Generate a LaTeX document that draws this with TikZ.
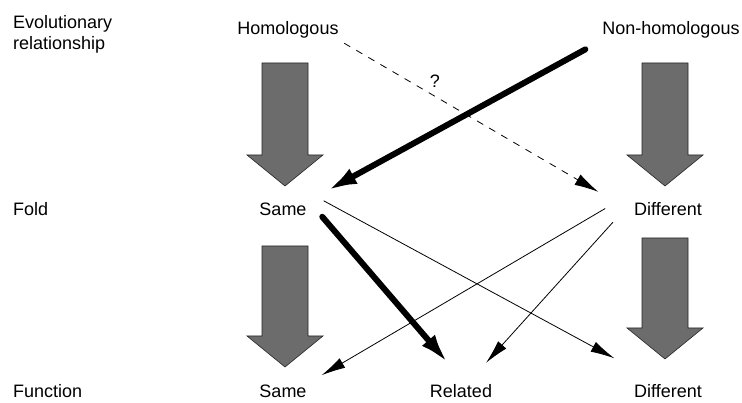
\documentclass[tikz,border=0pt]{standalone}
\usepackage{fontspec}
\setmainfont{Liberation Sans}
\usepackage{xcolor}
\usepackage{tikz}
\usetikzlibrary{arrows.meta}

\definecolor{bargray}{RGB}{108,108,108}

\begin{document}
\begin{tikzpicture}[
    x=1pt, y=-1pt,
    level/.style={font=\fontsize{18}{21}\selectfont, inner sep=2pt, text height=13pt, text depth=4pt, anchor=base},
    rowname/.style={font=\fontsize{18}{21}\selectfont, inner sep=0pt, align=left},
    bigarrow/.style={fill=bargray, draw=black!85, line width=0.6pt},
    strong/.style={line width=6pt, line cap=round, -{Latex[length=30pt,width=17pt]}},
    weak/.style={line width=0.8pt, -{Latex[length=24pt,width=11pt]}},
    maybe/.style={line width=0.8pt, dash pattern=on 7pt off 7pt, -{Latex[length=24pt,width=12pt]}}
]
    \useasboundingbox (0,0) rectangle (742,403);

    % Row names
    \node[rowname, anchor=north west] (evol) at (13,15) {Evolutionary\\relationship};
    \node[rowname, anchor=base west] (fold) at (13,216) {Fold};
    \node[rowname, anchor=base west] (func) at (13,398) {Function};

    % Evolutionary relationship
    \node[level] (homol) at (288,35) {Homologous};
    \node[level] (nonhom) at (671,35) {Non-homologous};

    % Fold
    \node[level] (samefold) at (283,216) {Same};
    \node[level] (difffold) at (668,216) {Different};

    % Function
    \node[level] (samefunc) at (283,398) {Same};
    \node[level] (related) at (461,398) {Related};
    \node[level] (difffunc) at (668,398) {Different};

    % Big grey arrows
    \foreach \cx/\top/\tip in {285/63/186, 665/63/186, 285/246/367, 665/238/359}
        \draw[bigarrow] (\cx-23,\top) -- (\cx+23,\top) -- (\cx+23,\tip-31) -- (\cx+38,\tip-31)
            -- (\cx,\tip) -- (\cx-38,\tip-31) -- (\cx-23,\tip-31) -- cycle;

    % Links
    \draw[maybe, shorten <=4pt, shorten >=39pt] (homol.south east) -- (difffold.west)
        node[pos=0.323, above=7.5pt, inner sep=1pt, font=\fontsize{18}{21}\selectfont] (query) {?};
    \draw[strong, shorten <=17pt, shorten >=21pt] (nonhom.south west) -- (samefold.north east);
    \draw[strong, shorten <=7pt, shorten >=26pt] ([xshift=9pt]samefold.east) -- ([xshift=4pt]related.north);
    \draw[weak, shorten >=20pt] ([xshift=15pt]samefold.north east) -- ([yshift=15pt]difffunc.north west);
    \draw[weak, shorten <=31pt, shorten >=15pt] ([yshift=8pt]difffold.north west) -- (samefunc.north east);
    \draw[weak, shorten >=27pt] ([xshift=-19pt]difffold.south west) -- ([xshift=7pt]related.north);
\end{tikzpicture}
\end{document}
